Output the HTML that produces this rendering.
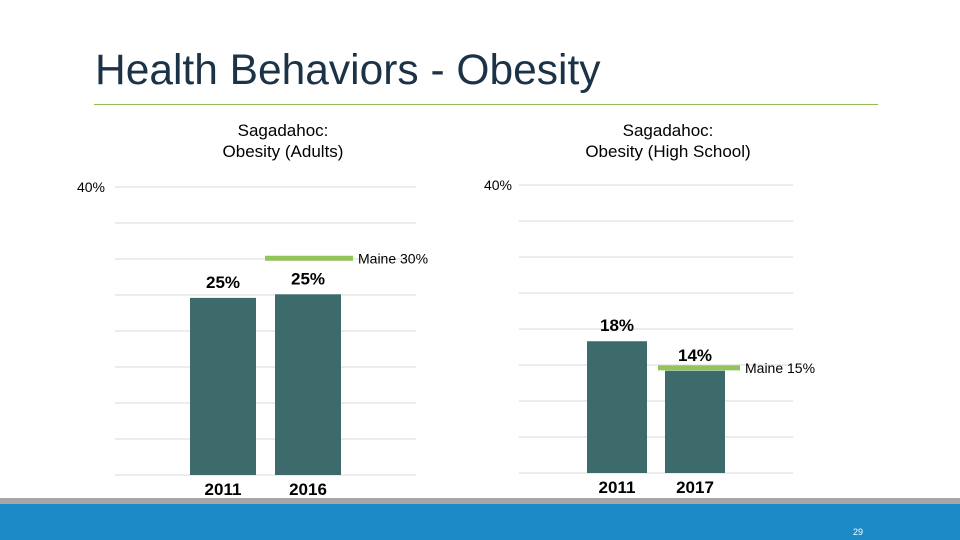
<!DOCTYPE html>
<html><head><meta charset="utf-8"><style>
body{margin:0;width:960px;height:540px;overflow:hidden;background:#fff;font-family:"Liberation Sans",Arial,sans-serif;position:relative}
.t{position:absolute;white-space:nowrap}
</style></head><body>
<div class="t" style="left:95px;top:47px;font-size:42.5px;color:#1c3347">Health Behaviors - Obesity</div>
<div style="position:absolute;left:94px;top:104px;width:784px;height:1px;background:#8dc051"></div>
<div class="t" style="left:283px;top:120px;transform:translateX(-50%);text-align:center;font-size:17px;color:#000;line-height:21px">Sagadahoc:<br>Obesity (Adults)</div>
<div class="t" style="left:668px;top:120px;transform:translateX(-50%);text-align:center;font-size:17px;color:#000;line-height:21px">Sagadahoc:<br>Obesity (High School)</div>
<svg id="chart" width="960" height="540" style="position:absolute;left:0;top:0"></svg>
<div style="position:absolute;left:0;top:498px;width:960px;height:6px;background:#a6a6a6"></div>
<div style="position:absolute;left:0;top:504px;width:960px;height:36px;background:#1b8ac6"></div>
<div class="t" style="left:853px;top:527px;font-size:9px;color:#fff">29</div>
<script>
const adultCats=["2011","2016"];
const adultVals=[24.6,25.1];
const adultLabels=["25%","25%"];
const adultMaine=[30.1];
const hsCats=["2011","2017"];
const hsVals=[18.3,14.2];
const hsLabels=["18%","14%"];
const hsMaine=[14.6];
const NS="http://www.w3.org/2000/svg";
const svg=document.getElementById('chart');
function mk(tag,attrs,parent){const e=document.createElementNS(NS,tag);for(const k in attrs)e.setAttribute(k,attrs[k]);(parent||svg).appendChild(e);return e;}
function draw(cfg){
  const y=v=>cfg.y0-(v/40)*(cfg.y0-cfg.y40);
  for(let i=0;i<=8;i++){const g=mk('line',{x1:cfg.gx0,x2:cfg.gx1,y1:y(i*5),y2:y(i*5),stroke:'#d9d9d9','stroke-width':1});
    
    }
  const tk=mk('text',{x:cfg.tickX,y:y(40)+5,'font-size':14,fill:'#000','text-anchor':'end','font-family':'Liberation Sans, sans-serif'});
  tk.textContent='40%';
  
  
  cfg.cats.forEach((c,i)=>{
    const x=cfg.bx[i];
    const b=mk('rect',{x:x,y:y(cfg.vals[i]),width:cfg.bw,height:cfg.y0-y(cfg.vals[i]),fill:'#3d6b6b'});
    
    
    const l=mk('text',{x:x+cfg.bw/2,y:y(cfg.vals[i])-10,'font-size':17,'font-weight':'bold','text-anchor':'middle',fill:'#000','font-family':'Liberation Sans, sans-serif'});
    l.textContent=cfg.labels[i];
    
    
    const a=mk('text',{x:x+cfg.bw/2,y:cfg.y0+20,'font-size':17,'font-weight':'bold','text-anchor':'middle',fill:'#000','font-family':'Liberation Sans, sans-serif'});
    a.textContent=c;
    
    
  });
  const my=y(cfg.maine[0]);
  const ml=mk('line',{x1:cfg.mx0,x2:cfg.mx1,y1:my,y2:my,stroke:'#92c45a','stroke-width':5});
  
  
  const mt=mk('text',{x:cfg.mx1+5,y:my+5,'font-size':14,fill:'#000','font-family':'Liberation Sans, sans-serif'});
  mt.textContent='Maine '+Math.round(cfg.maine[0])+'%';
  
  
}
draw({cats:adultCats,vals:adultVals,labels:adultLabels,maine:adultMaine,y0:475,y40:187,gx0:115,gx1:416,tickX:105,bx:[190,275],bw:66,mx0:265,mx1:353});
draw({cats:hsCats,vals:hsVals,labels:hsLabels,maine:hsMaine,y0:473,y40:185,gx0:519,gx1:793,tickX:512,bx:[587,665],bw:60,mx0:658,mx1:740});
</script>
</body></html>
